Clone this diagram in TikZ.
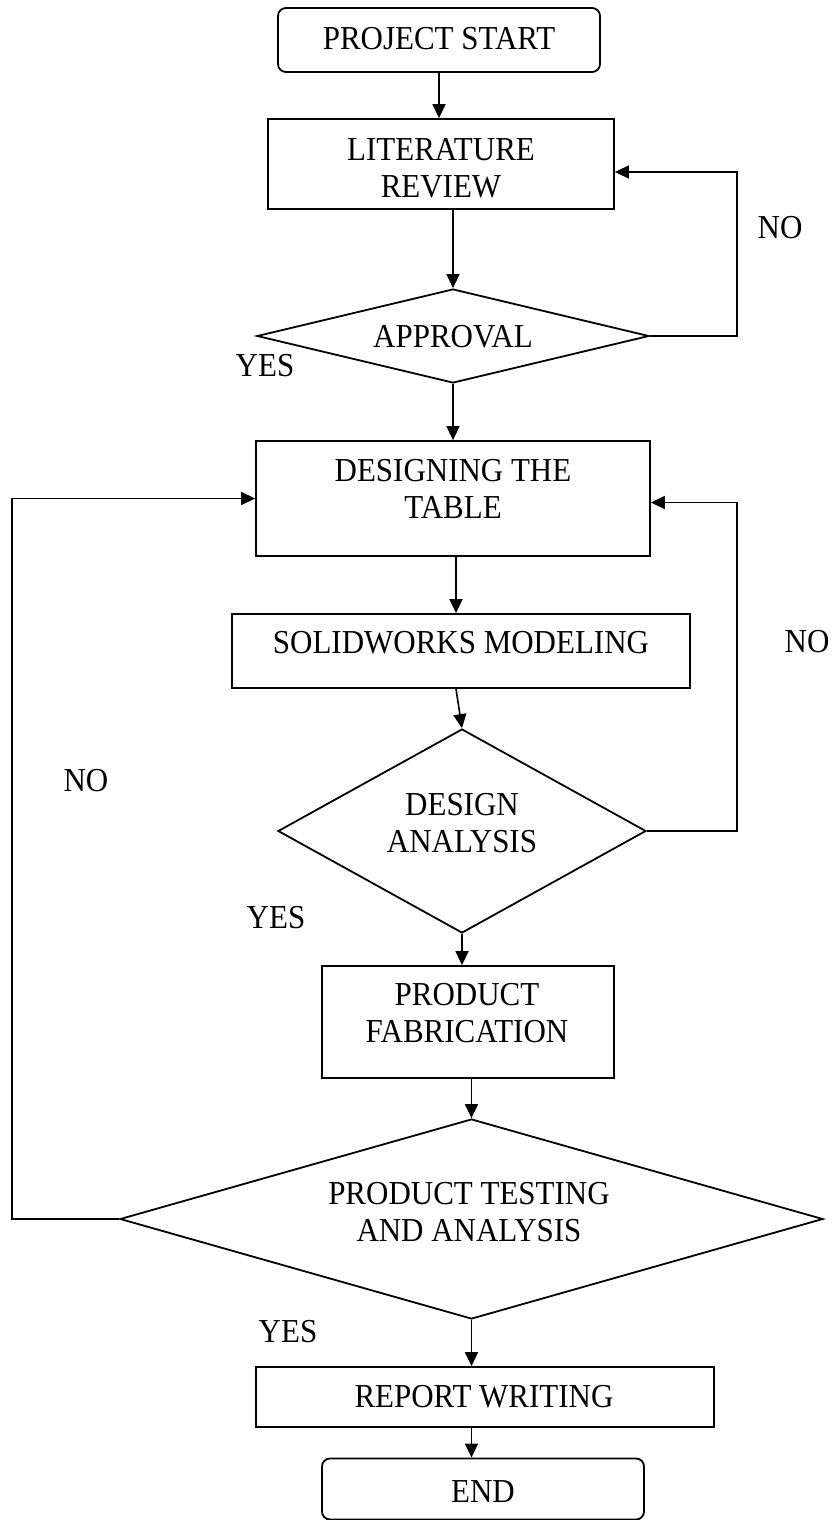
\documentclass[tikz,border=0pt]{standalone}
\usepackage{fontspec}
\setmainfont{Liberation Serif}[FakeStretch=0.925]
\usetikzlibrary{shapes.geometric,arrows.meta}
\begin{document}
\begin{tikzpicture}[x=1pt,y=-1pt,
  box/.style={draw,line width=1.8pt,rectangle,inner sep=0pt},
  rbox/.style={box,rounded corners=8pt},
  dia/.style={draw,line width=1.8pt,diamond,inner sep=0pt},
  txt/.style={align=center,font=\fontsize{33.5}{37}\selectfont,inner sep=0pt},
  arr/.style={line width=1.6pt,-{Triangle[length=14pt,width=13pt]}}]
\useasboundingbox (0,0) rectangle (832,1520);

% shapes
\node[rbox,minimum width=322pt,minimum height=64pt] (ps) at (439,40) {};
\node[box,minimum width=346pt,minimum height=90pt] (lit) at (441,164) {};
\node[dia,minimum width=392pt,minimum height=94pt] (app) at (453,336) {};
\node[box,minimum width=394pt,minimum height=115pt] (des) at (453,498.5) {};
\node[box,minimum width=458pt,minimum height=74pt] (sw) at (461,651) {};
\node[dia,minimum width=368pt,minimum height=204pt] (da) at (462,831) {};
\node[box,minimum width=292pt,minimum height=112pt] (pf) at (468,1022) {};
\node[dia,minimum width=703pt,minimum height=200pt] (pt) at (471.5,1219) {};
\node[box,minimum width=458pt,minimum height=60pt] (rw) at (485,1397) {};
\node[rbox,minimum width=322pt,minimum height=61pt] (end) at (483,1489) {};

% texts
\node[txt] (pst) at (439,39) {PROJECT START};
\node[txt] (litt) at (441,168) {LITERATURE\\REVIEW};
\node[txt] (appt) at (453,337) {APPROVAL};
\node[txt] (dest) at (453,489) {DESIGNING THE\\TABLE};
\node[txt] (swt) at (461,643) {SOLIDWORKS MODELING};
\node[txt] (dat) at (462,823) {DESIGN\\ANALYSIS};
\node[txt] (pft) at (467,1013) {PRODUCT\\FABRICATION};
\node[txt] (ptt) at (469,1212) {PRODUCT TESTING\\AND ANALYSIS};
\node[txt] (rwt) at (484,1397) {REPORT WRITING};
\node[txt] (endt) at (483,1492) {END};

% labels
\node[txt] (no1) at (780,228) {NO};
\node[txt] (no2) at (807,642) {NO};
\node[txt] (no3) at (86,781) {NO};
\node[txt] (yes1) at (265,366) {YES};
\node[txt] (yes2) at (276,918) {YES};
\node[txt] (yes3) at (288,1332) {YES};

% connectors
\draw[arr] (ps.south) -- (ps.south |- lit.north);
\draw[arr] (lit.south -| app.north) -- (app.north);
\draw[arr] (app.east) -- ++(87,0) |- ([yshift=-8pt]lit.east);
\draw[arr] (app.south) -- (app.south |- des.north);
\draw[arr] ([xshift=3pt]des.south) -- ([xshift=3pt]des.south |- sw.north);
\draw[arr] ([xshift=-5pt]sw.south) -- (da.north);
\draw[arr] (da.east) -- ++(90,0) |- ([yshift=-4pt]des.east);
\draw[arr] (da.south) -- (da.south |- pf.north);
\draw[arr] (pf.south -| pt.north) -- (pt.north);
\draw[arr] (pt.west) -- ++(-107,0) |- (des.west);
\draw[arr] (pt.south) -- (pt.south |- rw.north);
\draw[arr] (pt.south |- rw.south) -- (pt.south |- end.north);
\end{tikzpicture}
\end{document}
